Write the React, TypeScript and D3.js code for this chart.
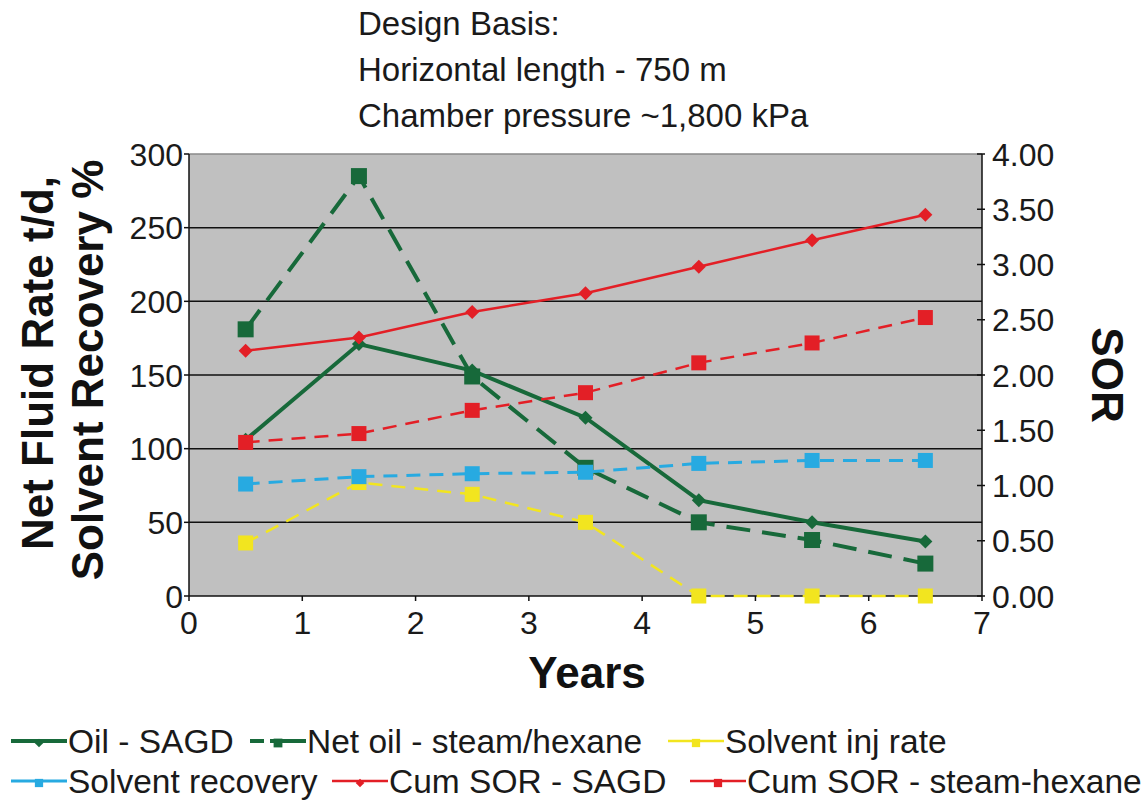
import React from 'react';
import * as d3 from 'd3';

// values
const years = [0.5, 1.5, 2.5, 3.5, 4.5, 5.5, 6.5];
const oilSagd = [106, 171, 153, 121, 65, 50, 37];
const netOilHexane = [181, 285, 149, 87, 50, 38, 22];
const solventInjRate = [36, 77, 69, 50, 0, 0, 0];
const solventRecovery = [76, 81, 83, 84, 90, 92, 92];
const cumSorSagd = [2.22, 2.34, 2.57, 2.74, 2.98, 3.22, 3.45];
const cumSorHexane = [1.39, 1.47, 1.68, 1.84, 2.11, 2.29, 2.52];

const xTicks = [0, 1, 2, 3, 4, 5, 6, 7];
const leftTicks = [0, 50, 100, 150, 200, 250, 300];
const rightTicks = [0, 0.5, 1, 1.5, 2, 2.5, 3, 3.5, 4];
const headerLines = ['Design Basis:', 'Horizontal length - 750 m', 'Chamber pressure ~1,800 kPa'];

const GREEN = '#17693a';
const RED = '#e31f26';
const BLUE = '#27aae1';
const YELLOW = '#f2e51f';

type Series = {
  name: string;
  values: number[];
  axis: 'left' | 'right';
  color: string;
  width: number;
  dash: string | null;
  marker: 'diamond' | 'square';
  size: number;
};

const series: Series[] = [
  { name: 'Oil - SAGD', values: oilSagd, axis: 'left', color: GREEN, width: 4, dash: null, marker: 'diamond', size: 12 },
  { name: 'Net oil - steam/hexane', values: netOilHexane, axis: 'left', color: GREEN, width: 4, dash: '24,12', marker: 'square', size: 16 },
  { name: 'Solvent inj rate', values: solventInjRate, axis: 'left', color: YELLOW, width: 2.5, dash: '14,9', marker: 'square', size: 15 },
  { name: 'Solvent recovery', values: solventRecovery, axis: 'left', color: BLUE, width: 3, dash: '14,9', marker: 'square', size: 15 },
  { name: 'Cum SOR - SAGD', values: cumSorSagd, axis: 'right', color: RED, width: 2.5, dash: null, marker: 'diamond', size: 12 },
  { name: 'Cum SOR - steam-hexane', values: cumSorHexane, axis: 'right', color: RED, width: 2.5, dash: '14,9', marker: 'square', size: 15 },
];

const W = 1145;
const H = 800;
const plot = { left: 189, right: 982, top: 154, bottom: 596 };
const FONT = 'Liberation Sans, Arial, Helvetica, sans-serif';

function Marker({ kind, x, y, size, color }: { kind: string; x: number; y: number; size: number; color: string }) {
  if (kind === 'square') {
    return <rect x={x - size / 2} y={y - size / 2} width={size} height={size} fill={color} />;
  }
  const r = size / 2 + 1;
  return <path d={`M${x},${y - r}L${x + r},${y}L${x},${y + r}L${x - r},${y}Z`} fill={color} />;
}

export default function App() {
  const x = d3.scaleLinear().domain([0, 7]).range([plot.left, plot.right]);
  const yL = d3.scaleLinear().domain([0, 300]).range([plot.bottom, plot.top]);
  const yR = d3.scaleLinear().domain([0, 4]).range([plot.bottom, plot.top]);

  const legendRows = [
    [{ s: series[0], x: 11 }, { s: series[1], x: 250 }, { s: series[2], x: 668 }],
    [{ s: series[3], x: 11 }, { s: series[4], x: 332 }, { s: series[5], x: 690 }],
  ];
  const legendY = [741, 781];

  return (
    <svg width={W} height={H} style={{ position: 'absolute', left: 0, top: 0, background: '#fff' }} fontFamily={FONT}>
      {headerLines.map((t, i) => (
        <text key={t} x={358} y={35 + i * 46} fontSize={33} fill="#1a1a1a">{t}</text>
      ))}

      <rect x={plot.left} y={plot.top} width={plot.right - plot.left} height={plot.bottom - plot.top} fill="#c0c0c0" />
      <line x1={plot.left} x2={plot.right} y1={plot.top} y2={plot.top} stroke="#8a8a8a" strokeWidth={1.5} />
      {leftTicks.filter(t => t > 0 && t < 300).map(t => (
        <line key={t} x1={plot.left} x2={plot.right} y1={yL(t)} y2={yL(t)} stroke="#111" strokeWidth={1.5} />
      ))}

      {/* left axis */}
      <line x1={plot.left} x2={plot.left} y1={plot.top} y2={plot.bottom} stroke="#111" strokeWidth={1.5} />
      {leftTicks.map(t => (
        <g key={t}>
          <line x1={plot.left - 5} x2={plot.left} y1={yL(t)} y2={yL(t)} stroke="#111" strokeWidth={1.5} />
          <text x={plot.left - 6} y={yL(t)} dy="0.36em" textAnchor="end" fontSize={32} fill="#1a1a1a">{t}</text>
        </g>
      ))}

      {/* right axis */}
      <line x1={plot.right} x2={plot.right} y1={plot.top} y2={plot.bottom} stroke="#111" strokeWidth={1.5} />
      {rightTicks.map(t => (
        <g key={t}>
          <line x1={plot.right - 5} x2={plot.right + 3} y1={yR(t)} y2={yR(t)} stroke="#111" strokeWidth={1.5} />
          <text x={plot.right + 10} y={yR(t)} dy="0.36em" fontSize={32} fill="#1a1a1a">{t.toFixed(2)}</text>
        </g>
      ))}

      {/* bottom axis */}
      <line x1={plot.left} x2={plot.right} y1={plot.bottom} y2={plot.bottom} stroke="#111" strokeWidth={1.5} />
      {xTicks.map(t => (
        <g key={t}>
          <line x1={x(t)} x2={x(t)} y1={plot.bottom} y2={plot.bottom + 5} stroke="#111" strokeWidth={1.5} />
          <text x={x(t)} y={634} textAnchor="middle" fontSize={32} fill="#1a1a1a">{t}</text>
        </g>
      ))}

      {series.map(s => {
        const ys = s.axis === 'left' ? yL : yR;
        const line = d3.line<number>().x((_, i) => x(years[i])).y(v => ys(v));
        return (
          <g key={s.name}>
            <path d={line(s.values) ?? ''} fill="none" stroke={s.color} strokeWidth={s.width} strokeDasharray={s.dash ?? undefined} />
            {s.values.map((v, i) => (
              <Marker key={i} kind={s.marker} x={x(years[i])} y={ys(v)} size={s.size} color={s.color} />
            ))}
          </g>
        );
      })}

      {/* axis titles */}
      <text x={587} y={688} textAnchor="middle" fontSize={44} fontWeight="bold" fill="#111">Years</text>
      <text transform="translate(53,363) rotate(-90)" textAnchor="middle" fontSize={44} fontWeight="bold" fill="#111">Net Fluid Rate t/d,</text>
      <text transform="translate(103,370) rotate(-90)" textAnchor="middle" fontSize={44} fontWeight="bold" fill="#111">Solvent Recovery %</text>
      <text transform="translate(1092,375) rotate(90)" textAnchor="middle" fontSize={44} fontWeight="bold" fill="#111">SOR</text>

      {/* legend */}
      {legendRows.map((row, ri) => row.map(({ s, x: lx }) => (
        <g key={s.name}>
          <line x1={lx} x2={lx + 56} y1={legendY[ri]} y2={legendY[ri]} stroke={s.color} strokeWidth={s.width}
            strokeDasharray={s.name.startsWith('Net') ? '14,6,40' : undefined} />
          <Marker kind={s.marker} x={lx + 28} y={legendY[ri] + 2} size={s.size * 0.55} color={s.color} />
          <text x={lx + 57} y={legendY[ri] + 12} fontSize={33.5} fill="#1a1a1a">{s.name}</text>
        </g>
      )))}
    </svg>
  );
}
